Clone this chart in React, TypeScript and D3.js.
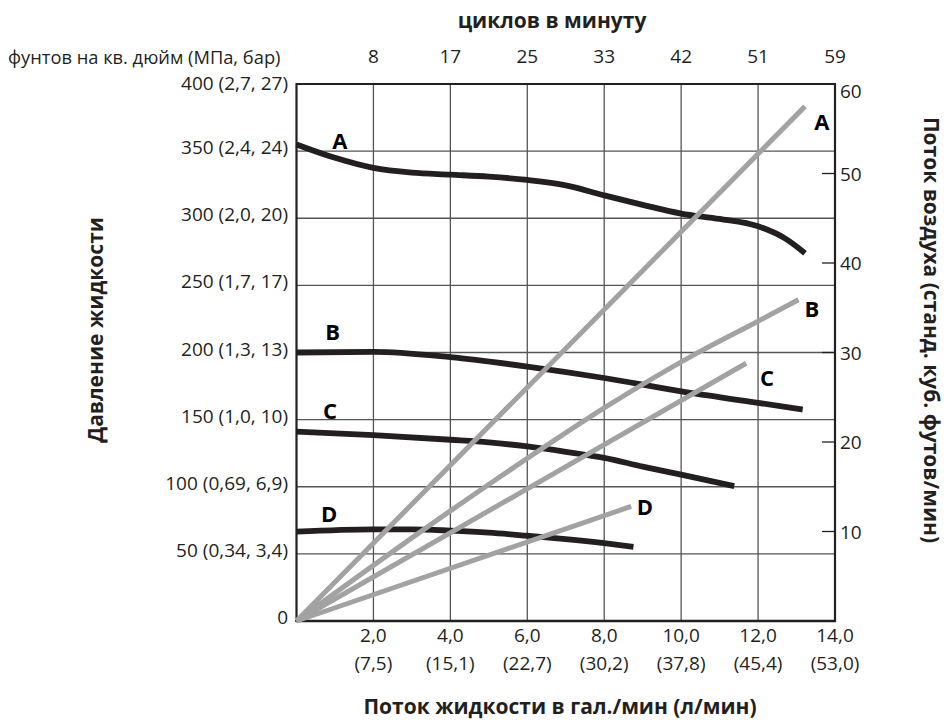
import React from 'react';
import * as d3 from 'd3';

// fluid flow, gal/min (bottom axis) with l/min in brackets
const gpmTicks = [2, 4, 6, 8, 10, 12, 14];
const gpmLabels = ['2,0', '4,0', '6,0', '8,0', '10,0', '12,0', '14,0'];
const lpmLabels = ['(7,5)', '(15,1)', '(22,7)', '(30,2)', '(37,8)', '(45,4)', '(53,0)'];
// cycles per minute (top axis), same positions as the gal/min ticks
const cpmLabels = ['8', '17', '25', '33', '42', '51', '59'];

// fluid pressure, psi (MPa, bar)
const psiTicks = [0, 50, 100, 150, 200, 250, 300, 350, 400];
const psiLabels = [
  '0',
  '50 (0,34, 3,4)',
  '100 (0,69, 6,9)',
  '150 (1,0, 10)',
  '200 (1,3, 13)',
  '250 (1,7, 17)',
  '300 (2,0, 20)',
  '350 (2,4, 24)',
  '400 (2,7, 27)',
];

// air flow, scfm (right axis)
const scfmTicks = [10, 20, 30, 40, 50];
const scfmLabels = ['10', '20', '30', '40', '50', '60'];
const scfmLabelValues = [10, 20, 30, 40, 50, 60];

const curveNames = ['A', 'B', 'C', 'D'];

// pressure curves: [gal/min, psi]
const pressureA: [number, number][] = [
  [0, 355], [1, 345], [2, 337.5], [3, 334], [4, 332.5], [5, 331], [6, 328.5],
  [7, 324.5], [8, 317], [9, 310], [10, 303.5], [11, 299.5], [12, 294], [12.7, 285], [13.22, 274],
];
const pressureB: [number, number][] = [
  [0, 200], [2, 200.5], [4, 196.5], [6, 189.5], [8, 181], [10, 171], [12, 162.5], [13.16, 157.5],
];
const pressureC: [number, number][] = [
  [0, 141], [2, 138.5], [4, 135], [5, 133], [6, 130], [7, 126], [8, 121.5], [9, 115], [10, 109], [11.38, 100.5],
];
const pressureD: [number, number][] = [
  [0, 66.5], [2, 68.3], [3, 68.3], [4, 67.3], [5, 65.8], [6, 63.5], [7, 61], [8, 58], [8.76, 55.3],
];

// air consumption: [gal/min, scfm]
const airA: [number, number][] = [[0, 0], [13.22, 57.5]];
const airB: [number, number][] = [[0, 0], [4, 12.3], [6.85, 20.6], [8, 23.8], [10.4, 29.9], [12, 33.5], [13.05, 35.9]];
const airC: [number, number][] = [[0, 0], [11.69, 28.8]];
const airD: [number, number][] = [[0, 0], [8.7, 12.8]];

// letter positions: pressure letters in [gal/min, psi], air letters in [gal/min, scfm]
const pressureLetterPos: [number, number][] = [[1.13, 358], [0.94, 216], [0.87, 157], [0.85, 80.5]];
const airLetterPos: [number, number][] = [[13.66, 55.9], [13.4, 35.0], [12.23, 27.3], [9.06, 12.85]];

const FONT = '"Open Sans", sans-serif';

export default function App() {
  const W = 948;
  const H = 723;
  const left = 296.5;
  const right = 835;
  const top = 84;
  const bottom = 621;

  const x = d3.scaleLinear().domain([0, 14]).range([left, right]);
  const yP = d3.scaleLinear().domain([0, 400]).range([bottom, top]);
  const yA = d3.scaleLinear().domain([0, 60]).range([bottom, top]);

  const pLine = d3.line<[number, number]>()
    .x(d => x(d[0]))
    .y(d => yP(d[1]))
    .curve(d3.curveMonotoneX);
  const aLine = d3.line<[number, number]>()
    .x(d => x(d[0]))
    .y(d => yA(d[1]))
    .curve(d3.curveMonotoneX);

  const pressures = [pressureA, pressureB, pressureC, pressureD];
  const airs = [airA, airB, airC, airD];
  const ink = '#231f20';

  return (
    <svg width={W} height={H} style={{ position: 'absolute', left: 0, top: 0, background: '#fff' }}
      fontFamily={FONT}>
      {/* grid */}
      {gpmTicks.slice(0, -1).map(t => (
        <line key={'vx' + t} x1={x(t)} x2={x(t)} y1={top} y2={bottom} stroke="#555" strokeWidth={1.3} />
      ))}
      {psiTicks.slice(1, -1).map(t => (
        <line key={'hy' + t} x1={left} x2={right} y1={yP(t)} y2={yP(t)} stroke="#555" strokeWidth={1.3} />
      ))}

      {/* frame */}
      <line x1={left} x2={right} y1={top} y2={top} stroke={ink} strokeWidth={2.2} />
      <line x1={left} x2={left} y1={top - 1} y2={bottom + 1} stroke={ink} strokeWidth={2.2} />
      <line x1={left - 1} x2={right + 1} y1={bottom} y2={bottom} stroke={ink} strokeWidth={2.6} />
      <line x1={right} x2={right} y1={top - 1} y2={bottom + 1} stroke={ink} strokeWidth={2.2} />

      {/* right axis ticks */}
      {scfmTicks.map(t => (
        <line key={'rt' + t} x1={right - 13} x2={right} y1={yA(t)} y2={yA(t)} stroke={ink} strokeWidth={1.3} />
      ))}

      {/* pressure curves */}
      {pressures.map((p, i) => (
        <path key={'p' + i} d={pLine(p) || ''} fill="none" stroke={ink} strokeWidth={5.8} />
      ))}
      {/* air curves */}
      {airs.map((a, i) => (
        <path key={'a' + i} d={aLine(a) || ''} fill="none" stroke="#a2a2a2" strokeWidth={5} />
      ))}

      {/* curve letters */}
      {curveNames.map((n, i) => (
        <text key={'pl' + n} x={x(pressureLetterPos[i][0])} y={yP(pressureLetterPos[i][1])}
          textAnchor="middle" dominantBaseline="central" fontSize={22} fontWeight={700} fill="#000">{n}</text>
      ))}
      {curveNames.map((n, i) => (
        <text key={'al' + n} x={x(airLetterPos[i][0])} y={yA(airLetterPos[i][1])}
          textAnchor="middle" dominantBaseline="central" fontSize={22} fontWeight={700} fill="#000">{n}</text>
      ))}

      {/* left axis labels */}
      {psiTicks.map((t, i) => (
        <text key={'ll' + t} x={288} y={yP(t) - (t === 400 ? 1 : 4)} textAnchor="end" dominantBaseline="central"
          fontSize={19} fill={ink}>{psiLabels[i]}</text>
      ))}

      {/* right axis labels */}
      {scfmLabelValues.map((t, i) => (
        <text key={'rl' + t} x={840} y={t === 60 ? yA(t) + 7 : yA(t)} dominantBaseline="central"
          fontSize={19} fill={ink}>{scfmLabels[i]}</text>
      ))}

      {/* bottom axis labels */}
      {gpmTicks.map((t, i) => (
        <g key={'bl' + t}>
          <text x={x(t)} y={635} textAnchor="middle" dominantBaseline="central" fontSize={19} fill={ink}>
            {gpmLabels[i]}
          </text>
          <text x={x(t)} y={663} textAnchor="middle" dominantBaseline="central" fontSize={19} fill={ink}>
            {lpmLabels[i]}
          </text>
        </g>
      ))}

      {/* top axis labels */}
      {gpmTicks.map((t, i) => (
        <text key={'tl' + t} x={x(t)} y={56} textAnchor="middle" dominantBaseline="central" fontSize={19} fill={ink}>
          {cpmLabels[i]}
        </text>
      ))}
      <text x={8} y={56} dominantBaseline="central" fontSize={18.3} fill={ink}>фунтов на кв. дюйм (МПа, бар)</text>

      {/* titles */}
      <text x={552} y={20} textAnchor="middle" dominantBaseline="central" fontSize={21} fontWeight={700} fill={ink}>
        циклов в минуту
      </text>
      <text x={560} y={706} textAnchor="middle" dominantBaseline="central" fontSize={21} fontWeight={700} fill={ink}>
        Поток жидкости в гал./мин (л/мин)
      </text>
      <text transform="translate(95,330) rotate(-90)" textAnchor="middle" dominantBaseline="central"
        fontSize={21} fontWeight={700} fill={ink}>
        Давление жидкости
      </text>
      <text transform="translate(932,330) rotate(90)" textAnchor="middle" dominantBaseline="central"
        fontSize={21} fontWeight={700} fill={ink}>
        Поток воздуха (станд. куб. футов/мин)
      </text>
    </svg>
  );
}
